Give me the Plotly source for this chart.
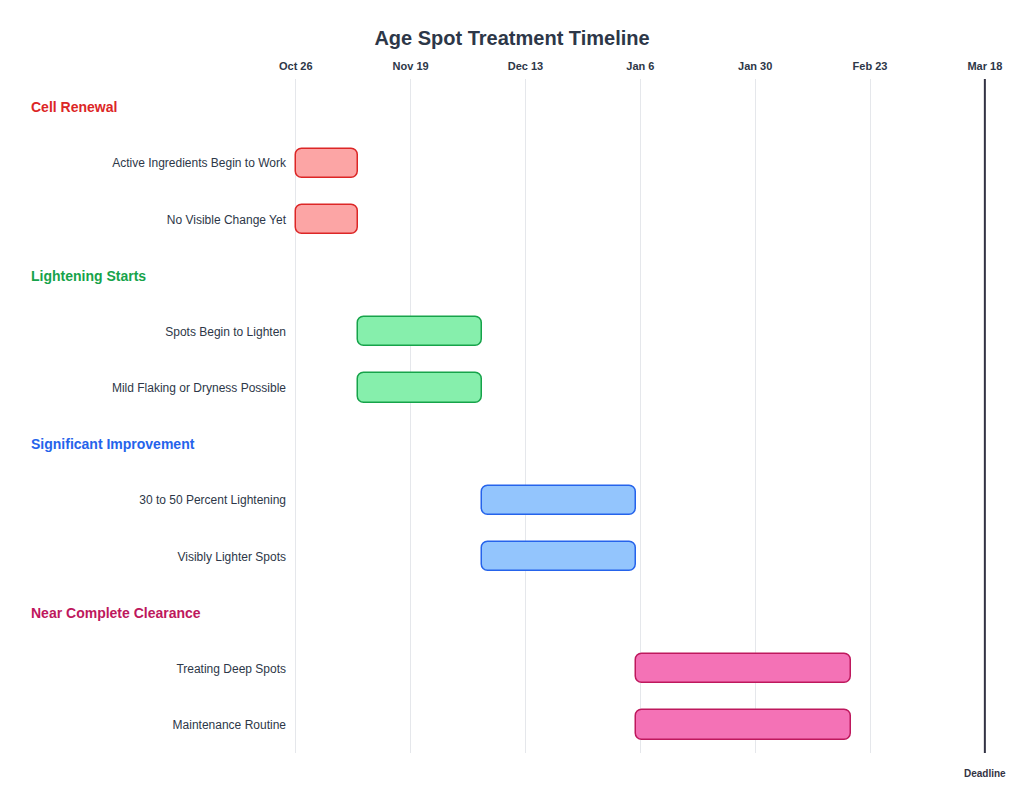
import pandas as pd
import plotly.graph_objects as go

phases = ["Cell Renewal", "Lightening Starts", "Significant Improvement", "Near Complete Clearance"]
phase_colors = ["#DC2626", "#16A34A", "#2563EB", "#BE185D"]
phase_fills = ["#FCA5A5", "#86EFAC", "#93C5FD", "#F472B6"]

tasks = ["Active Ingredients Begin to Work", "No Visible Change Yet",
         "Spots Begin to Lighten", "Mild Flaking or Dryness Possible",
         "30 to 50 Percent Lightening", "Visibly Lighter Spots",
         "Treating Deep Spots", "Maintenance Routine"]
task_phase = [0, 0, 1, 1, 2, 2, 3, 3]
starts = ["2023-10-26", "2023-10-26", "2023-11-08", "2023-11-08",
          "2023-12-04", "2023-12-04", "2024-01-05", "2024-01-05"]
ends = ["2023-11-08", "2023-11-08", "2023-12-04", "2023-12-04",
        "2024-01-05", "2024-01-05", "2024-02-19", "2024-02-19"]
deadline = "2024-03-18"
tick_dates = pd.date_range("2023-10-26", periods=7, freq="24D")

# row layout: header row then its tasks
rows, header_rows = [], []
r = 0
for p in range(len(phases)):
    header_rows.append(r)
    r += 1
    for i, tp in enumerate(task_phase):
        if tp == p:
            rows.append(r)
            r += 1

fig = go.Figure()
for i, t in enumerate(tasks):
    p = task_phase[i]
    s, e = pd.Timestamp(starts[i]), pd.Timestamp(ends[i])
    fig.add_trace(go.Bar(
        y=[rows[i]], x=[(e - s).total_seconds() * 1000], base=[starts[i]],
        orientation="h", width=0.52,
        marker=dict(color=phase_fills[p], line=dict(color=phase_colors[p], width=1.5),
                    cornerradius=7),
        showlegend=False, hovertemplate=t + "<extra></extra>",
    ))

for h, name, c in zip(header_rows, phases, phase_colors):
    fig.add_annotation(x=-0.367, xref="paper", y=h, yref="y", text="<b>" + name + "</b>",
                       showarrow=False, xanchor="left", font=dict(size=14, color=c))

fig.add_shape(type="line", x0=deadline, x1=deadline, xref="x", y0=0, y1=1.0, yref="paper",
              line=dict(color="#333344", width=2))
fig.add_annotation(x=deadline, xref="x", y=0, yref="paper", yshift=-13, text="<b>Deadline</b>",
                   showarrow=False, yanchor="top", xanchor="center",
                   font=dict(size=10, color="#333344"))

fig.update_layout(
    title=dict(text="<b>Age Spot Treatment Timeline</b>", x=0.5, y=0.961, yanchor="middle",
               xanchor="center", font=dict(size=20, color="#2D3748")),
    plot_bgcolor="white", paper_bgcolor="white",
    margin=dict(l=283, r=12, t=71, b=32),
    font=dict(family="Arial, Liberation Sans", color="#2D3748"),
    bargap=0,
)
fig.update_xaxes(type="date", side="top", range=["2023-10-25", "2024-03-22"],
                 tickvals=tick_dates, ticktext=["<b>" + d.strftime("%b %-d") + "</b>" for d in tick_dates],
                 tickfont=dict(size=11, color="#2D3748"), showgrid=True, gridcolor="#E5E7EB",
                 zeroline=False, showline=False, ticklabelstandoff=6)
fig.update_yaxes(range=[11.5, -0.5], tickvals=rows, ticktext=tasks, showgrid=False,
                 zeroline=False, tickfont=dict(size=12, color="#2D3748"), ticks="", ticklen=0,
                 ticklabelstandoff=4)
fig.write_html("out.html")
